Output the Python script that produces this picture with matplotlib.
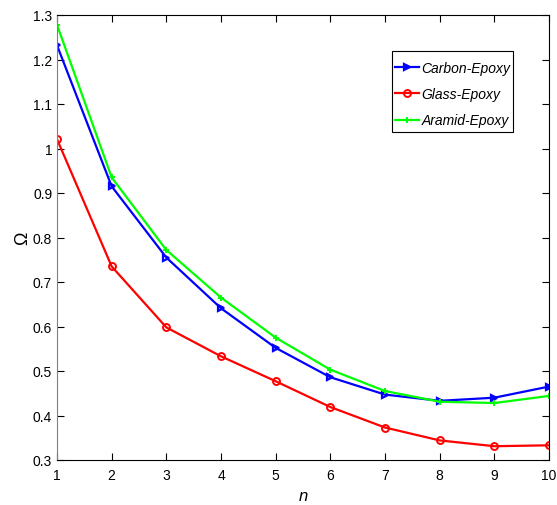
import matplotlib.pyplot as plt
from matplotlib.patches import Rectangle
import numpy as np

n = np.arange(1, 11)
carbon_epoxy = [1.232, 0.915, 0.755, 0.641, 0.552, 0.486, 0.447, 0.433, 0.440, 0.465]
glass_epoxy = [1.021, 0.735, 0.598, 0.533, 0.477, 0.419, 0.373, 0.344, 0.331, 0.333]
aramid_epoxy = [1.278, 0.935, 0.772, 0.665, 0.575, 0.503, 0.455, 0.431, 0.428, 0.444]

plt.rcParams['font.family'] = ['Liberation Sans', 'DejaVu Sans']
plt.rcParams['font.size'] = 10

W, H = 557, 506
fig = plt.figure(figsize=(W / 100, H / 100), dpi=100)
ax = fig.add_axes([57 / W, 1 - 461 / H, (549 - 57) / W, (461 - 16) / H])

ax.plot(n, carbon_epoxy, color='#0000ff', lw=1.6, marker='>', ms=5,
        mfc='none', mew=1.6, label='Carbon-Epoxy')
ax.plot(n, glass_epoxy, color='#ff0000', lw=1.6, marker='o', ms=5,
        mfc='none', mew=1.4, label='Glass-Epoxy')
ax.plot(n, aramid_epoxy, color='#00ff00', lw=1.6, marker='+', ms=5,
        mew=1.4, label='Aramid-Epoxy')

ax.set_xlim(1, 10)
ax.set_ylim(0.3, 1.3)
ax.set_xticks(range(1, 11))
ax.set_yticks(np.round(np.arange(0.3, 1.31, 0.1), 1))
ax.set_yticklabels(['0.3', '0.4', '0.5', '0.6', '0.7', '0.8', '0.9', '1', '1.1', '1.2', '1.3'])
ax.tick_params(direction='in', top=True, right=True, length=5, width=0.8)
ax.tick_params(axis='x', pad=6)
ax.tick_params(axis='y', pad=3.5)
for s in ax.spines.values():
    s.set_linewidth(0.8)
ax.spines['left'].set_color('#808080')

ax.set_xlabel('n', fontstyle='italic', fontsize=12, labelpad=4)
ax.set_ylabel('Ω', fontsize=13, labelpad=1)

# legend without its own frame, boxed by a plain rectangle
to_ax = lambda px, py: ((px - 57) / 492, (461 - py) / 445)
leg = ax.legend(loc='upper left', bbox_to_anchor=to_ax(395, 62), frameon=False,
                borderpad=0, borderaxespad=0, handlelength=1.75, handletextpad=0.15,
                labelspacing=0.88, prop={'style': 'italic', 'size': 10})
x0, y0 = to_ax(392, 133)
x1, y1 = to_ax(513, 52)
ax.add_patch(Rectangle((x0, y0), x1 - x0, y1 - y0, transform=ax.transAxes,
                       facecolor='white', edgecolor='black', lw=0.8, zorder=4))
leg.set_zorder(5)

fig.savefig('out.png', dpi=100)
